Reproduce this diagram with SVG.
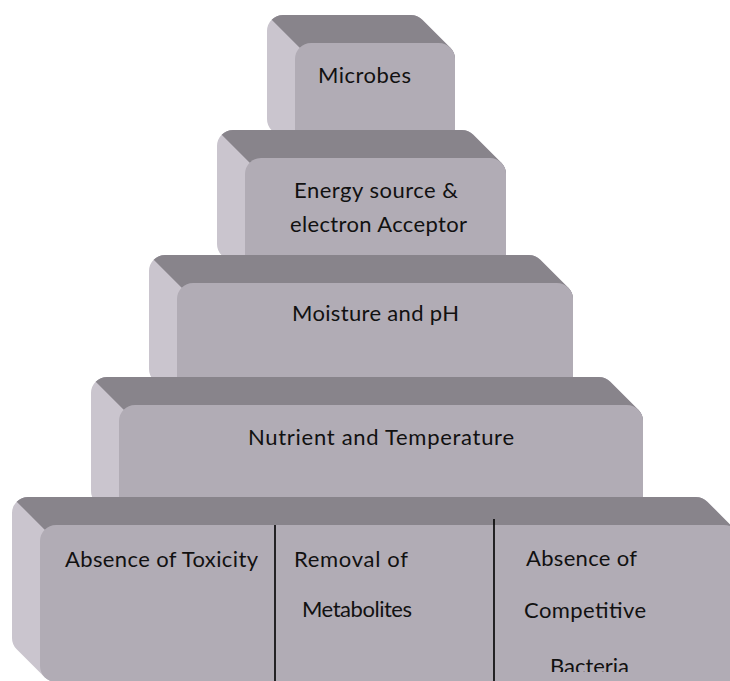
<svg xmlns="http://www.w3.org/2000/svg" width="730" height="681" viewBox="0 0 730 681">
<defs>
<style>
.side{fill:#cac5ce;}
.top{fill:#88848b;}
.front{fill:#b1acb5;}
.lbl{font-family:Lato,"Open Sans","Liberation Sans",sans-serif;font-size:22px;fill:#111;}
.div{stroke:#000;stroke-width:1.6;}
</style>
<clipPath id="clipB"><rect x="0" y="0" width="730" height="672"/></clipPath>
</defs>
<rect width="730" height="681" fill="#fff"/>

<g id="box1">
<path class="side" d="M 267,31 A 16 16 0 0 1 283,15 L 411,15 A 16 16 0 0 1 422.31,19.69 L 450.31,47.69 A 16 16 0 0 1 455,59 L 455,147 A 16 16 0 0 1 439,163 L 311,163 A 16 16 0 0 1 299.69,158.31 L 271.69,130.31 A 16 16 0 0 1 267,119 Z"/>
<path class="top" d="M 271.69,19.69 A 16 16 0 0 1 283,15 L 411,15 A 16 16 0 0 1 422.31,19.69 L 450.31,47.69 A 16 16 0 0 1 455,59 L 299.69,47.69 Z"/>
<rect class="front" x="295" y="43" width="160" height="120" rx="16"/>
<text class="lbl" x="318" y="83" textLength="93">Microbes</text>
</g>

<g id="box2">
<path class="side" d="M 217,146 A 16 16 0 0 1 233,130 L 462,130 A 16 16 0 0 1 473.31,134.69 L 501.31,162.69 A 16 16 0 0 1 506,174 L 506,272 A 16 16 0 0 1 490,288 L 261,288 A 16 16 0 0 1 249.69,283.31 L 221.69,255.31 A 16 16 0 0 1 217,244 Z"/>
<path class="top" d="M 221.69,134.69 A 16 16 0 0 1 233,130 L 462,130 A 16 16 0 0 1 473.31,134.69 L 501.31,162.69 A 16 16 0 0 1 506,174 L 249.69,162.69 Z"/>
<rect class="front" x="245" y="158" width="261" height="130" rx="16"/>
<text class="lbl" x="294" y="198" textLength="164">Energy source &amp;</text>
<text class="lbl" x="290" y="232" textLength="177">electron Acceptor</text>
</g>

<g id="box3">
<path class="side" d="M 149,271 A 16 16 0 0 1 165,255 L 529,255 A 16 16 0 0 1 540.31,259.69 L 568.31,287.69 A 16 16 0 0 1 573,299 L 573,397 A 16 16 0 0 1 557,413 L 193,413 A 16 16 0 0 1 181.69,408.31 L 153.69,380.31 A 16 16 0 0 1 149,369 Z"/>
<path class="top" d="M 153.69,259.69 A 16 16 0 0 1 165,255 L 529,255 A 16 16 0 0 1 540.31,259.69 L 568.31,287.69 A 16 16 0 0 1 573,299 L 181.69,287.69 Z"/>
<rect class="front" x="177" y="283" width="396" height="130" rx="16"/>
<text class="lbl" x="292" y="321" textLength="167">Moisture and pH</text>
</g>

<g id="box4">
<path class="side" d="M 91,393 A 16 16 0 0 1 107,377 L 599,377 A 16 16 0 0 1 610.31,381.69 L 638.31,409.69 A 16 16 0 0 1 643,421 L 643,519 A 16 16 0 0 1 627,535 L 135,535 A 16 16 0 0 1 123.69,530.31 L 95.69,502.31 A 16 16 0 0 1 91,491 Z"/>
<path class="top" d="M 95.69,381.69 A 16 16 0 0 1 107,377 L 599,377 A 16 16 0 0 1 610.31,381.69 L 638.31,409.69 A 16 16 0 0 1 643,421 L 123.69,409.69 Z"/>
<rect class="front" x="119" y="405" width="524" height="130" rx="16"/>
<text class="lbl" x="248" y="445" textLength="266">Nutrient and Temperature</text>
</g>

<g id="box5">
<path class="side" d="M 12,513 A 16 16 0 0 1 28,497 L 696,497 A 16 16 0 0 1 707.31,501.69 L 735.31,529.69 A 16 16 0 0 1 740,541 L 740,666 A 16 16 0 0 1 724,682 L 56,682 A 16 16 0 0 1 44.69,677.31 L 16.69,649.31 A 16 16 0 0 1 12,638 Z"/>
<path class="top" d="M 16.69,501.69 A 16 16 0 0 1 28,497 L 696,497 A 16 16 0 0 1 707.31,501.69 L 735.31,529.69 A 16 16 0 0 1 740,541 L 44.69,529.69 Z"/>
<rect class="front" x="40" y="525" width="700" height="157" rx="16"/>
<line class="div" x1="275" y1="525" x2="275" y2="681"/>
<line class="div" x1="494" y1="519" x2="494" y2="681"/>
<text class="lbl" x="65" y="567" textLength="193">Absence of Toxicity</text>
<text class="lbl" x="294" y="567" textLength="114">Removal of</text>
<text class="lbl" x="302" y="617" textLength="110">Metabolites</text>
<text class="lbl" x="526" y="566" textLength="111">Absence of</text>
<text class="lbl" x="524" y="618" textLength="122">Competitive</text>
<text class="lbl" x="550" y="674" textLength="79" clip-path="url(#clipB)">Bacteria</text>
</g>

<g id="connectors"/>
</svg>
